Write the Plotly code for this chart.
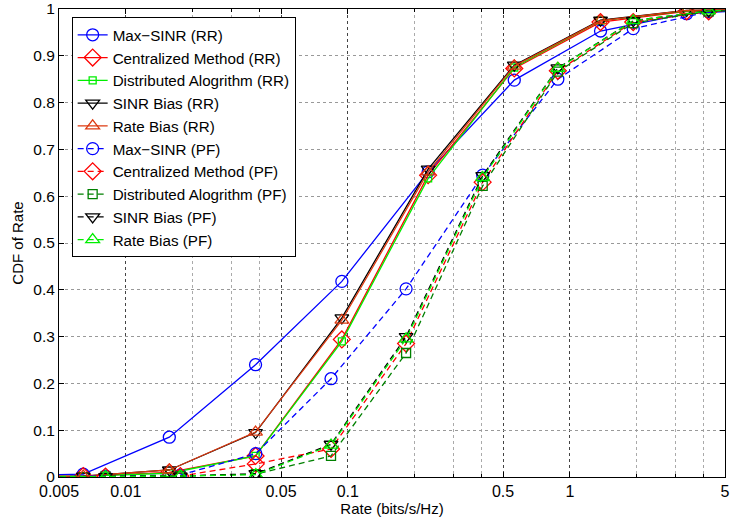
import plotly.graph_objects as go

# ---- data ----
rate_rr = [0.00263, 0.00643, 0.0157, 0.0384, 0.094, 0.23, 0.562, 1.375, 3.36, 8.2]
rate_pf = [0.0037, 0.0081, 0.0176, 0.0385, 0.084, 0.183, 0.405, 0.883, 1.93, 4.22, 9.2]

maxsinr_rr = [0.002, 0.006, 0.085, 0.240, 0.418, 0.652, 0.848, 0.953, 0.990, 1.0]
central_rr = [0.0, 0.002, 0.010, 0.045, 0.294, 0.645, 0.873, 0.972, 0.995, 1.0]
distrib_rr = [0.0, 0.002, 0.008, 0.045, 0.290, 0.638, 0.875, 0.975, 0.996, 1.0]
sinrb_rr = [0.0, 0.002, 0.015, 0.095, 0.340, 0.658, 0.880, 0.976, 0.997, 1.0]
rateb_rr = [0.0, 0.002, 0.015, 0.096, 0.335, 0.652, 0.878, 0.975, 0.997, 1.0]

maxsinr_pf = [0.0, 0.002, 0.004, 0.050, 0.210, 0.402, 0.645, 0.850, 0.958, 0.994, 1.0]
central_pf = [0.0, 0.001, 0.002, 0.028, 0.060, 0.285, 0.630, 0.868, 0.972, 0.995, 1.0]
distrib_pf = [0.0, 0.001, 0.002, 0.006, 0.045, 0.265, 0.622, 0.866, 0.970, 0.995, 1.0]
sinrb_pf = [0.0, 0.001, 0.002, 0.007, 0.070, 0.300, 0.644, 0.874, 0.975, 0.996, 1.0]
rateb_pf = [0.0, 0.001, 0.002, 0.005, 0.068, 0.295, 0.640, 0.873, 0.975, 0.996, 1.0]

names = ["Max\u2212SINR (RR)", "Centralized Method (RR)", "Distributed Alogrithm (RR)",
         "SINR Bias (RR)", "Rate Bias (RR)", "Max\u2212SINR (PF)", "Centralized Method (PF)",
         "Distributed Alogrithm (PF)", "SINR Bias (PF)", "Rate Bias (PF)"]

x_ticks = [0.005, 0.01, 0.05, 0.1, 0.5, 1, 5]
x_ticklabels = ["0.005", "0.01", "0.05", "0.1", "0.5", "1", "5"]
x_minor = [0.02, 0.03, 0.04, 0.2, 0.3, 0.4, 2, 3, 4]
y_ticks = [0, 0.1, 0.2, 0.3, 0.4, 0.5, 0.6, 0.7, 0.8, 0.9, 1]
y_ticklabels = ["0", "0.1", "0.2", "0.3", "0.4", "0.5", "0.6", "0.7", "0.8", "0.9", "1"]

# ---- styles ----
series = [
    (rate_rr, maxsinr_rr, "#0000ff", "circle-open", 12, "solid"),
    (rate_rr, central_rr, "#ff0000", "diamond-open", 13, "solid"),
    (rate_rr, distrib_rr, "#00ee00", "square-open", 7, "solid"),
    (rate_rr, sinrb_rr, "#000000", "triangle-down-open", 12, "solid"),
    (rate_rr, rateb_rr, "#dd3a10", "triangle-up-open", 12, "solid"),
    (rate_pf, maxsinr_pf, "#0000ff", "circle-open", 12, "6px,4px"),
    (rate_pf, central_pf, "#ff0000", "diamond-open", 13, "6px,4px"),
    (rate_pf, distrib_pf, "#008000", "square-open", 9, "6px,4px"),
    (rate_pf, sinrb_pf, "#000000", "triangle-down-open", 12, "6px,4px"),
    (rate_pf, rateb_pf, "#00ee00", "triangle-up-open", 12, "6px,4px"),
]

fig = go.Figure()
for name, (xs, ys, col, sym, sz, dash) in zip(names, series):
    fig.add_trace(go.Scatter(
        x=xs, y=ys, name=name, mode="lines+markers",
        line=dict(color=col, width=1.3, dash=dash),
        marker=dict(symbol=sym, size=sz, color=col, line=dict(width=1.3, color=col)),
        cliponaxis=True,
    ))

font = "Liberation Sans, Arial, Helvetica, sans-serif"
fig.update_layout(
    width=730, height=520,
    margin=dict(l=59, r=0, t=5, b=43),
    paper_bgcolor="white", plot_bgcolor="white",
    font=dict(family=font, size=15, color="black"),
    legend=dict(
        x=0.019, y=0.982, xanchor="left", yanchor="top",
        bgcolor="white", bordercolor="black", borderwidth=1,
        font=dict(size=15.2, family=font), tracegroupgap=0, itemwidth=30,
    ),
)
fig.update_xaxes(
    type="log", range=[-2.30103, 0.69897],
    tickvals=x_ticks, ticktext=x_ticklabels,
    ticks="inside", ticklen=5, tickcolor="black",
    showline=True, linecolor="black", linewidth=1, mirror="ticks",
    showgrid=True, gridcolor="#444444", griddash="dot", gridwidth=1,
    zeroline=False, ticklabeloverflow="allow",
    tickfont=dict(size=16),
    minor=dict(tickvals=x_minor, ticks="inside", ticklen=3, tickcolor="black",
               showgrid=True, gridcolor="#aaaaaa", griddash="dot", gridwidth=1),
    title=dict(text="Rate (bits/s/Hz)", font=dict(size=15), standoff=0),
)
fig.update_yaxes(
    range=[0, 1],
    tickvals=y_ticks, ticktext=y_ticklabels,
    ticks="inside", ticklen=5, tickcolor="black",
    showline=True, linecolor="black", linewidth=1, mirror="ticks",
    showgrid=True, gridcolor="#999999", griddash="dot", gridwidth=1,
    zeroline=False, ticklabeloverflow="allow",
    tickfont=dict(size=15.5),
    title=dict(text="CDF of Rate", font=dict(size=15), standoff=6),
)

fig.write_html("out.html")
